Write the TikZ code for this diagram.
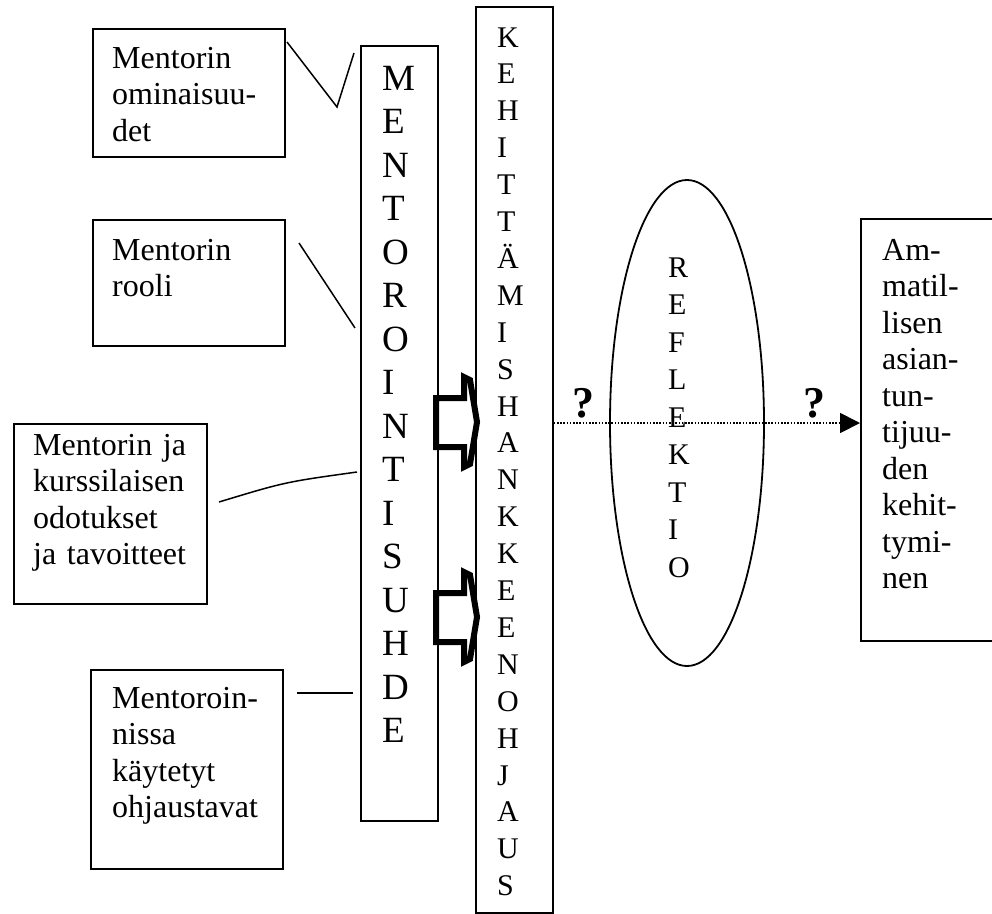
\documentclass[tikz,border=0pt]{standalone}
\usepackage{fontspec}
\setmainfont{Liberation Serif}
\usetikzlibrary{arrows.meta,shapes.geometric,calc}
\begin{document}
\begin{tikzpicture}[x=1pt,y=-1pt,
  boxshape/.style={draw,line width=1.8pt,inner sep=0pt,anchor=north west},
  boxtext/.style={anchor=base west,inner sep=0pt,align=left,text width=170pt,font=\fontsize{32}{36.5}\selectfont},
  colA/.style={anchor=base west,inner sep=0pt,font=\fontsize{37}{40}\selectfont},
  colB/.style={anchor=base west,inner sep=0pt,font=\fontsize{30}{36}\selectfont},
  conn/.style={line width=1.5pt},
  blockarrow/.style={line width=6pt,miter limit=10,line join=miter,fill=white},
  qmark/.style={anchor=base,inner sep=0pt,font=\fontsize{44}{44}\selectfont\bfseries},
  dotline/.style={line width=1.8pt,dash pattern=on 1.6pt off 1.6pt,-{Triangle[length=20pt,width=20pt]}}]
\useasboundingbox (0,0) rectangle (992,913);
% boxes
\node[boxshape,minimum width=192pt,minimum height=128pt] (b1) at (92,28) {};
\node[boxshape,minimum width=192pt,minimum height=126pt] (b2) at (92,219) {};
\node[boxshape,minimum width=193pt,minimum height=180pt] (b3) at (13,423) {};
\node[boxshape,minimum width=192pt,minimum height=199pt] (b4) at (90,669) {};
\node[boxshape,minimum width=77pt,minimum height=775pt] (mentor) at (360,45) {};
\node[boxshape,minimum width=77pt,minimum height=906pt] (kehit) at (475,6) {};
\node[boxshape,minimum width=136pt,minimum height=422pt] (amm) at (860,218) {};
\node[draw,ellipse,line width=1.8pt,minimum width=154pt,minimum height=486pt,inner sep=0pt] (refl) at (687,423) {};
% box texts
\node[boxtext] (t1) at (112,68) {Mentorin\\ominaisuu-\\det};
\node[boxtext] (t2) at (112,260) {Mentorin\\rooli};
\node[boxtext] (t3) at (33,455) {Mentorin ja\\kurssilaisen\\odotukset\\ja tavoitteet};
\node[boxtext] (t4) at (112,708) {Mentoroin-\\nissa\\käytetyt\\ohjaustavat};
\node[boxtext] (t5) at (882,260) {Am-\\matil-\\lisen\\asian-\\tun-\\tijuu-\\den\\kehit-\\tymi-\\nen};
% vertical letters
\foreach \l [count=\i from 0] in {M,E,N,T,O,R,O,I,N,T,I,S,U,H,D,E}
  \node[colA] (m\i) at (382,{90+43.5*\i}) {\l};
\foreach \l [count=\i from 0] in {K,E,H,I,T,T,Ä,M,I,S,H,A,N,K,K,E,E,N,O,H,J,A,U,S}
  \node[colB] (k\i) at (497,{47+36.9*\i}) {\l};
\foreach \l [count=\i from 0] in {R,E,F,L,E,K,T,I,O}
  \node[colB] (r\i) at (668,{277+37.5*\i}) {\l};
% connectors from the left boxes
\coordinate (c1a) at (287,42);
\coordinate (c1b) at (337,107);
\coordinate (c1c) at (354,53);
\draw[conn] (c1a) -- (c1b) -- (c1c);
\coordinate (c2a) at (299,243);
\coordinate (c2b) at (355,328);
\draw[conn] (c2a) -- (c2b);
\coordinate (c3a) at (219,502);
\coordinate (c3b) at (357,472);
\draw[conn] (c3a) .. controls (285,482) .. (c3b);
\coordinate (c4a) at (297,693);
\coordinate (c4b) at (353,693);
\draw[conn] (c4a) -- (c4b);
% block arrows
\draw[blockarrow] (436,398) -- (464,398) -- (464,377) -- (470,380) -- (477,422) -- (470,464) -- (464,467) -- (464,447) -- (436,447) -- cycle;
\draw[blockarrow] (436,593) -- (464,593) -- (464,572) -- (470,575) -- (477,617) -- (470,659) -- (464,662) -- (464,642) -- (436,642) -- cycle;
% dotted arrow
\draw[dotline] (kehit.east |- refl.center) -- (amm.west |- refl.center);
\node[qmark] (q1) at (583,417) {?};
\node[qmark] (q2) at (814,417) {?};
\end{tikzpicture}
\end{document}
